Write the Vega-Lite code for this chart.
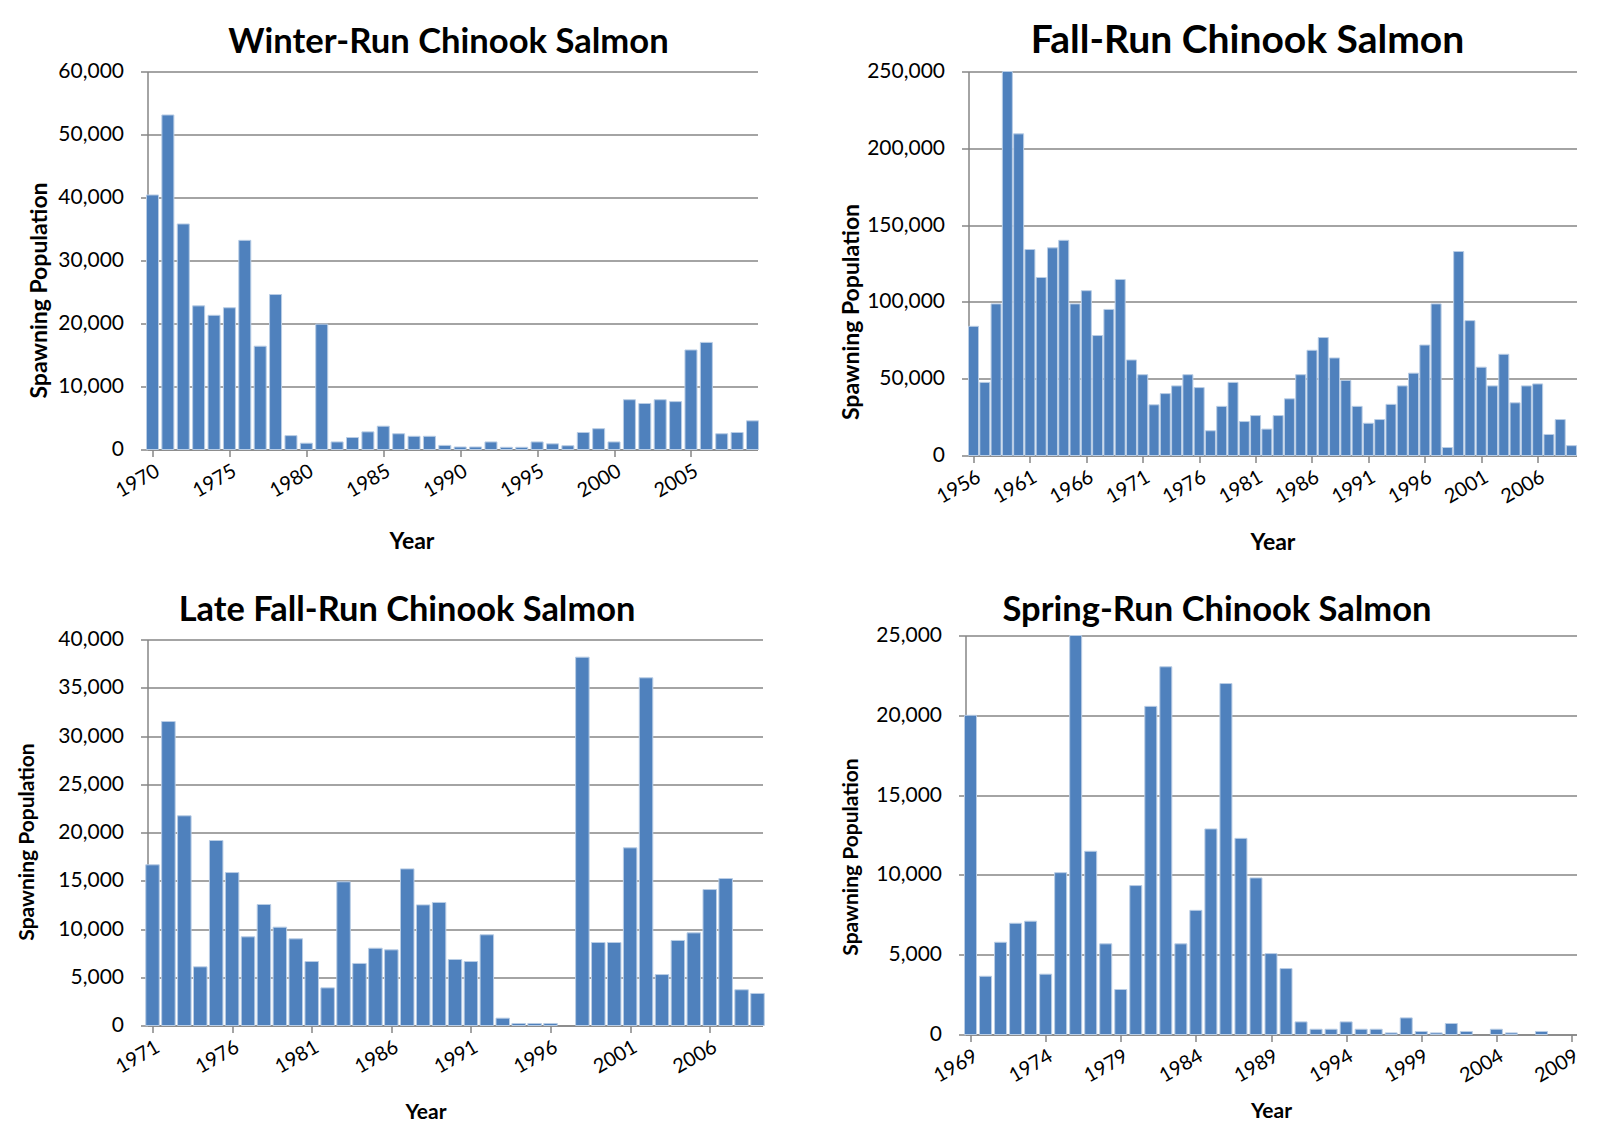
{
  "$schema": "https://vega.github.io/schema/vega-lite/v6.json",
  "background": "white",
  "padding": {"left": 15.5, "top": 21.5, "right": 0, "bottom": 0},
  "config": {
    "font": "Lato",
    "view": {"stroke": null},
    "title": {"font": "Lato", "fontWeight": "bold", "color": "#000000", "anchor": "middle"},
    "axis": {
      "domainColor": "#868686", "domainWidth": 1.5,
      "tickColor": "#868686", "tickWidth": 1.5, "tickSize": 7,
      "gridColor": "#868686", "gridWidth": 1.6, "gridOpacity": 1,
      "labelColor": "#000000", "labelFont": "Lato", "labelFontSize": 21,
      "titleColor": "#000000", "titleFont": "Lato", "titleFontWeight": "bold", "titleFontSize": 23
    },
    "axisX": {"grid": false, "labelAngle": -30, "labelAlign": "right", "labelBaseline": "top", "labelPadding": 4, "labelFontSize": 20, "labelOverlap": false},
    "axisY": {"grid": true, "labelPadding": 17, "format": ",d"},
    "bar": {"color": "#4F81BD", "stroke": "#B9CDE5", "strokeWidth": 1, "clip": true}
  },
  "datasets": {
    "winter": [
      {"year": 1970, "spawners": 40400}, {"year": 1971, "spawners": 53100}, {"year": 1972, "spawners": 35800},
      {"year": 1973, "spawners": 22800}, {"year": 1974, "spawners": 21300}, {"year": 1975, "spawners": 22500},
      {"year": 1976, "spawners": 33200}, {"year": 1977, "spawners": 16400}, {"year": 1978, "spawners": 24600},
      {"year": 1979, "spawners": 2200}, {"year": 1980, "spawners": 1000}, {"year": 1981, "spawners": 19900},
      {"year": 1982, "spawners": 1200}, {"year": 1983, "spawners": 1900}, {"year": 1984, "spawners": 2800},
      {"year": 1985, "spawners": 3700}, {"year": 1986, "spawners": 2500}, {"year": 1987, "spawners": 2100},
      {"year": 1988, "spawners": 2100}, {"year": 1989, "spawners": 650}, {"year": 1990, "spawners": 400},
      {"year": 1991, "spawners": 400}, {"year": 1992, "spawners": 1200}, {"year": 1993, "spawners": 350},
      {"year": 1994, "spawners": 350}, {"year": 1995, "spawners": 1200}, {"year": 1996, "spawners": 900},
      {"year": 1997, "spawners": 600}, {"year": 1998, "spawners": 2700}, {"year": 1999, "spawners": 3300},
      {"year": 2000, "spawners": 1200}, {"year": 2001, "spawners": 7900}, {"year": 2002, "spawners": 7300},
      {"year": 2003, "spawners": 7900}, {"year": 2004, "spawners": 7600}, {"year": 2005, "spawners": 15800},
      {"year": 2006, "spawners": 17000}, {"year": 2007, "spawners": 2500}, {"year": 2008, "spawners": 2700},
      {"year": 2009, "spawners": 4550}
    ],
    "fall": [
      {"year": 1956, "spawners": 84100}, {"year": 1957, "spawners": 47600}, {"year": 1958, "spawners": 98700},
      {"year": 1959, "spawners": 250000}, {"year": 1960, "spawners": 209400}, {"year": 1961, "spawners": 134100},
      {"year": 1962, "spawners": 115900}, {"year": 1963, "spawners": 135200}, {"year": 1964, "spawners": 140100},
      {"year": 1965, "spawners": 98700}, {"year": 1966, "spawners": 107300}, {"year": 1967, "spawners": 78100},
      {"year": 1968, "spawners": 95100}, {"year": 1969, "spawners": 114600}, {"year": 1970, "spawners": 62200},
      {"year": 1971, "spawners": 52600}, {"year": 1972, "spawners": 33000}, {"year": 1973, "spawners": 40300},
      {"year": 1974, "spawners": 45300}, {"year": 1975, "spawners": 52600}, {"year": 1976, "spawners": 44200},
      {"year": 1977, "spawners": 16100}, {"year": 1978, "spawners": 32000}, {"year": 1979, "spawners": 47600},
      {"year": 1980, "spawners": 22100}, {"year": 1981, "spawners": 26000}, {"year": 1982, "spawners": 17200},
      {"year": 1983, "spawners": 26000}, {"year": 1984, "spawners": 36900}, {"year": 1985, "spawners": 52600},
      {"year": 1986, "spawners": 68500}, {"year": 1987, "spawners": 76800}, {"year": 1988, "spawners": 63500},
      {"year": 1989, "spawners": 48900}, {"year": 1990, "spawners": 32000}, {"year": 1991, "spawners": 21000},
      {"year": 1992, "spawners": 23400}, {"year": 1993, "spawners": 33300}, {"year": 1994, "spawners": 45300},
      {"year": 1995, "spawners": 53600}, {"year": 1996, "spawners": 71900}, {"year": 1997, "spawners": 98700},
      {"year": 1998, "spawners": 5200}, {"year": 1999, "spawners": 132800}, {"year": 2000, "spawners": 87800},
      {"year": 2001, "spawners": 57500}, {"year": 2002, "spawners": 45300}, {"year": 2003, "spawners": 65900},
      {"year": 2004, "spawners": 34300}, {"year": 2005, "spawners": 45300}, {"year": 2006, "spawners": 46600},
      {"year": 2007, "spawners": 13700}, {"year": 2008, "spawners": 23400}, {"year": 2009, "spawners": 6400}
    ],
    "latefall": [
      {"year": 1971, "spawners": 16650}, {"year": 1972, "spawners": 31500}, {"year": 1973, "spawners": 21730},
      {"year": 1974, "spawners": 6080}, {"year": 1975, "spawners": 19170}, {"year": 1976, "spawners": 15850},
      {"year": 1977, "spawners": 9190}, {"year": 1978, "spawners": 12540}, {"year": 1979, "spawners": 10190},
      {"year": 1980, "spawners": 8980}, {"year": 1981, "spawners": 6630}, {"year": 1982, "spawners": 3900},
      {"year": 1983, "spawners": 14890}, {"year": 1984, "spawners": 6430}, {"year": 1985, "spawners": 8010},
      {"year": 1986, "spawners": 7840}, {"year": 1987, "spawners": 16230}, {"year": 1988, "spawners": 12500},
      {"year": 1989, "spawners": 12750}, {"year": 1990, "spawners": 6840}, {"year": 1991, "spawners": 6630},
      {"year": 1992, "spawners": 9400}, {"year": 1993, "spawners": 760}, {"year": 1994, "spawners": 210},
      {"year": 1995, "spawners": 210}, {"year": 1996, "spawners": 210},
      {"year": 1998, "spawners": 38170}, {"year": 1999, "spawners": 8600}, {"year": 2000, "spawners": 8600},
      {"year": 2001, "spawners": 18410}, {"year": 2002, "spawners": 36030}, {"year": 2003, "spawners": 5280},
      {"year": 2004, "spawners": 8810}, {"year": 2005, "spawners": 9600}, {"year": 2006, "spawners": 14090},
      {"year": 2007, "spawners": 15230}, {"year": 2008, "spawners": 3700}, {"year": 2009, "spawners": 3320}
    ],
    "spring": [
      {"year": 1969, "spawners": 20000}, {"year": 1970, "spawners": 3650}, {"year": 1971, "spawners": 5780},
      {"year": 1972, "spawners": 6970}, {"year": 1973, "spawners": 7100}, {"year": 1974, "spawners": 3780},
      {"year": 1975, "spawners": 10140}, {"year": 1976, "spawners": 25000}, {"year": 1977, "spawners": 11480},
      {"year": 1978, "spawners": 5680}, {"year": 1979, "spawners": 2820}, {"year": 1980, "spawners": 9330},
      {"year": 1981, "spawners": 20560}, {"year": 1982, "spawners": 23040}, {"year": 1983, "spawners": 5680},
      {"year": 1984, "spawners": 7780}, {"year": 1985, "spawners": 12880}, {"year": 1986, "spawners": 21990},
      {"year": 1987, "spawners": 12290}, {"year": 1988, "spawners": 9810}, {"year": 1989, "spawners": 5070},
      {"year": 1990, "spawners": 4130}, {"year": 1991, "spawners": 790}, {"year": 1992, "spawners": 330},
      {"year": 1993, "spawners": 330}, {"year": 1994, "spawners": 790}, {"year": 1995, "spawners": 330},
      {"year": 1996, "spawners": 330}, {"year": 1997, "spawners": 100}, {"year": 1998, "spawners": 1040},
      {"year": 1999, "spawners": 190}, {"year": 2000, "spawners": 100}, {"year": 2001, "spawners": 690},
      {"year": 2002, "spawners": 190}, {"year": 2004, "spawners": 330},
      {"year": 2005, "spawners": 100}, {"year": 2007, "spawners": 190}
    ]
  },
  "columns": 2,
  "align": "none",
  "spacing": {"row": 38, "column": 75},
  "concat": [
    {
      "title": {"text": "Winter-Run Chinook Salmon", "fontSize": 34.6, "offset": 0, "dx": -4},
      "width": 610, "height": 378,
      "data": {"name": "winter"},
      "mark": {"type": "bar", "size": 12},
      "encoding": {
        "x": {"field": "year", "type": "quantitative", "title": "Year",
          "scale": {"domain": [1970, 2009], "nice": false, "zero": false},
          "axis": {"values": [1970, 1975, 1980, 1985, 1990, 1995, 2000, 2005], "format": "d", "titlePadding": 29, "titleX": 264}},
        "y": {"field": "spawners", "type": "quantitative", "title": "Spawning Population",
          "scale": {"domain": [0, 60000], "nice": false},
          "axis": {"values": [0, 10000, 20000, 30000, 40000, 50000, 60000], "titlePadding": 6.5, "titleY": 218.5}}
      }
    },
    {
      "title": {"text": "Fall-Run Chinook  Salmon", "fontSize": 39, "offset": 0, "dx": -25},
      "width": 608, "height": 384,
      "data": {"name": "fall"},
      "mark": {"type": "bar", "size": 10},
      "encoding": {
        "x": {"field": "year", "type": "quantitative", "title": "Year",
          "scale": {"domain": [1956, 2009], "nice": false, "zero": false},
          "axis": {"values": [1956, 1961, 1966, 1971, 1976, 1981, 1986, 1991, 1996, 2001, 2006], "format": "d", "titlePadding": 24}},
        "y": {"field": "spawners", "type": "quantitative", "title": "Spawning Population",
          "scale": {"domain": [0, 250000], "nice": false},
          "axis": {"values": [0, 50000, 100000, 150000, 200000, 250000], "titlePadding": 3, "titleY": 240}}
      }
    },
    {
      "title": {"text": "Late Fall-Run Chinook Salmon", "fontSize": 34.4, "offset": 0, "dx": -48},
      "width": 615, "height": 386,
      "data": {"name": "latefall"},
      "mark": {"type": "bar", "size": 13.5},
      "encoding": {
        "x": {"field": "year", "type": "quantitative", "title": "Year",
          "scale": {"domain": [1971, 2009], "nice": false, "zero": false},
          "axis": {"values": [1971, 1976, 1981, 1986, 1991, 1996, 2001, 2006], "format": "d", "titleFontSize": 21, "titlePadding": 24, "titleX": 278}},
        "y": {"field": "spawners", "type": "quantitative", "title": "Spawning Population",
          "scale": {"domain": [0, 40000], "nice": false},
          "axis": {"values": [0, 5000, 10000, 15000, 20000, 25000, 30000, 35000, 40000], "titleFontSize": 21, "titlePadding": 20.5, "titleY": 202}}
      }
    },
    {
      "title": {"text": "Spring-Run Chinook Salmon", "fontSize": 34.5, "offset": -4, "dx": -54},
      "width": 611, "height": 399,
      "data": {"name": "spring"},
      "mark": {"type": "bar", "size": 12},
      "encoding": {
        "x": {"field": "year", "type": "quantitative", "title": "Year",
          "scale": {"domain": [1969, 2009], "nice": false, "zero": false},
          "axis": {"values": [1969, 1974, 1979, 1984, 1989, 1994, 1999, 2004, 2009], "format": "d", "titleFontSize": 21, "titlePadding": 14}},
        "y": {"field": "spawners", "type": "quantitative", "title": "Spawning Population",
          "scale": {"domain": [0, 25000], "nice": false},
          "axis": {"values": [0, 5000, 10000, 15000, 20000, 25000], "titleFontSize": 21, "titlePadding": 14, "titleY": 221}}
      }
    }
  ]
}
